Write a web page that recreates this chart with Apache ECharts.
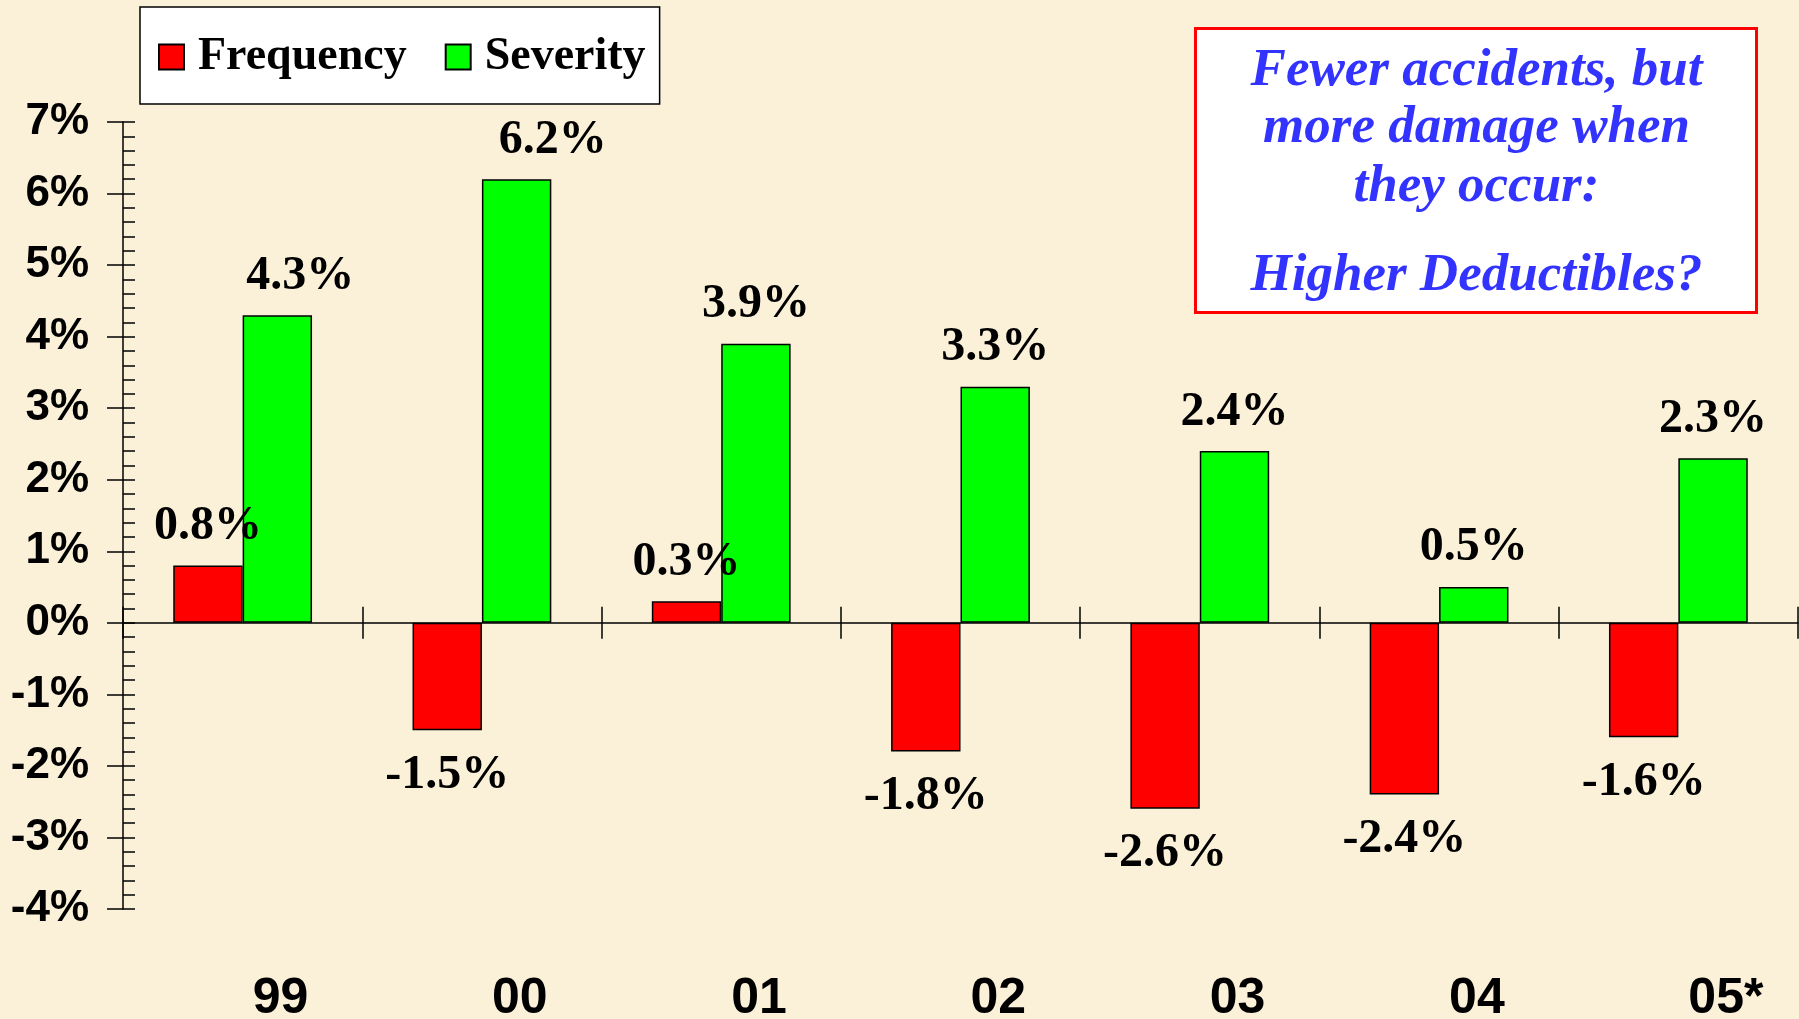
<!DOCTYPE html>
<html>
<head>
<meta charset="utf-8">
<script src="https://cdn.jsdelivr.net/npm/echarts@6/dist/echarts.min.js"></script>
<style>
html,body{margin:0;padding:0;background:#fbf0d8;}
#chart{width:1799px;height:1019px;}
</style>
</head>
<body>
<div id="chart"></div>
<script>
// ---- data ----
const categories = ['99', '00', '01', '02', '03', '04', '05*'];
const frequency = [0.8, -1.5, 0.3, -1.8, -2.6, -2.4, -1.6];
const severity = [4.3, 6.2, 3.9, 3.3, 2.4, 0.5, 2.3];
const seriesNames = ['Frequency', 'Severity'];
const noteLines = ['Fewer accidents, but', 'more damage when', 'they occur:', 'Higher Deductibles?'];

// ---- chart ----
const chart = echarts.init(document.getElementById('chart'), null, {renderer: 'canvas'});
const serif = '"Liberation Serif", "Times New Roman", serif';
const sans = '"Liberation Sans", Arial, sans-serif';

// label nudges for a couple of severity labels (as in the original slide)
const sevShift = {0: 23, 1: 36};

function makeData(vals, shifts) {
  return vals.map((v, i) => ({
    value: v,
    label: {
      position: v >= 0 ? 'top' : 'bottom',
      distance: v >= 0 ? 15 : 21,
      offset: [shifts && shifts[i] ? shifts[i] : 0, 0]
    }
  }));
}

const labelStyle = {
  show: true,
  formatter: p => p.value.toFixed(1) + '%',
  fontFamily: serif,
  fontWeight: 'bold',
  fontSize: 48,
  color: '#000'
};

const gridW = 1675;
const tickStyle = {color: '#000', width: 1.5};

const option = {
  backgroundColor: '#fbf0d8',
  animation: false,
  legend: {
    data: seriesNames,
    left: 140,
    top: 7,
    orient: 'horizontal',
    backgroundColor: '#fff',
    borderColor: '#000',
    borderWidth: 1.5,
    borderRadius: 0,
    padding: [27, 14, 24, 18],
    itemWidth: 25,
    itemHeight: 25,
    itemGap: 38,
    icon: 'rect',
    textStyle: {
      fontFamily: serif,
      fontWeight: 'bold',
      fontSize: 46,
      color: '#000',
      padding: [0, 0, 0, 9]
    }
  },
  grid: {
    left: 123,
    right: 1,
    top: 122,
    bottom: 110,
    containLabel: false,
    outerBoundsMode: 'none'
  },
  xAxis: [
    {
      // category labels, along the bottom of the plot
      type: 'category',
      data: categories,
      position: 'bottom',
      axisLine: {show: false, onZero: false},
      axisTick: {show: false},
      axisLabel: {
        interval: 0,
        margin: 65,
        align: 'left',
        padding: [0, 0, 0, 10],
        fontFamily: sans,
        fontWeight: 'bold',
        fontSize: 50,
        color: '#000'
      },
      splitLine: {show: false}
    },
    {
      // zero line with downward ticks
      type: 'category',
      data: categories,
      position: 'bottom',
      axisLine: {show: true, onZero: true, lineStyle: tickStyle},
      axisTick: {show: true, length: 16, lineStyle: tickStyle},
      axisLabel: {show: false},
      splitLine: {show: false}
    },
    {
      // upward ticks on the zero line
      type: 'category',
      data: categories,
      position: 'top',
      axisLine: {show: false, onZero: true},
      axisTick: {show: true, length: 16, lineStyle: tickStyle},
      axisLabel: {show: false},
      splitLine: {show: false}
    }
  ],
  yAxis: [
    {
      type: 'value',
      position: 'left',
      min: -4,
      max: 7,
      interval: 1,
      axisLine: {show: true, lineStyle: tickStyle},
      axisTick: {show: true, length: 16, lineStyle: tickStyle},
      axisLabel: {
        formatter: '{value}%',
        margin: 34,
        fontFamily: sans,
        fontWeight: 'bold',
        fontSize: 44,
        color: '#000'
      },
      splitLine: {show: false}
    },
    {
      type: 'value',
      position: 'right',
      offset: -gridW,
      min: -4,
      max: 7,
      interval: 1,
      axisLine: {show: false},
      axisTick: {show: true, length: 12, lineStyle: tickStyle},
      minorTick: {show: true, splitNumber: 5, length: 12, lineStyle: tickStyle},
      axisLabel: {show: false},
      splitLine: {show: false},
      minorSplitLine: {show: false}
    }
  ],
  series: [
    {
      name: seriesNames[0],
      type: 'bar',
      xAxisIndex: 0,
      yAxisIndex: 0,
      data: makeData(frequency, null),
      barGap: '0%',
      barCategoryGap: '42%',
      itemStyle: {color: '#ff0000', borderColor: '#000', borderWidth: 1.5},
      label: labelStyle,
      emphasis: {disabled: true}
    },
    {
      name: seriesNames[1],
      type: 'bar',
      xAxisIndex: 0,
      yAxisIndex: 0,
      data: makeData(severity, sevShift),
      barGap: '0%',
      barCategoryGap: '42%',
      itemStyle: {color: '#00ff00', borderColor: '#000', borderWidth: 1.5},
      label: labelStyle,
      emphasis: {disabled: true}
    }
  ],
  graphic: [
    {
      type: 'group',
      left: 1194,
      top: 27,
      children: [
        {
          type: 'rect',
          shape: {x: 0, y: 0, width: 561, height: 284},
          style: {fill: '#fff', stroke: '#ff0000', lineWidth: 3}
        },
        ...noteLines.map((t, i) => ({
          type: 'text',
          x: 281,
          y: [43, 100, 159, 248][i],
          style: {
            text: t,
            fill: '#3333ff',
            font: 'italic bold 53px ' + serif,
            textAlign: 'center',
            textVerticalAlign: 'middle'
          }
        }))
      ]
    }
  ]
};

chart.setOption(option);
</script>
</body>
</html>
